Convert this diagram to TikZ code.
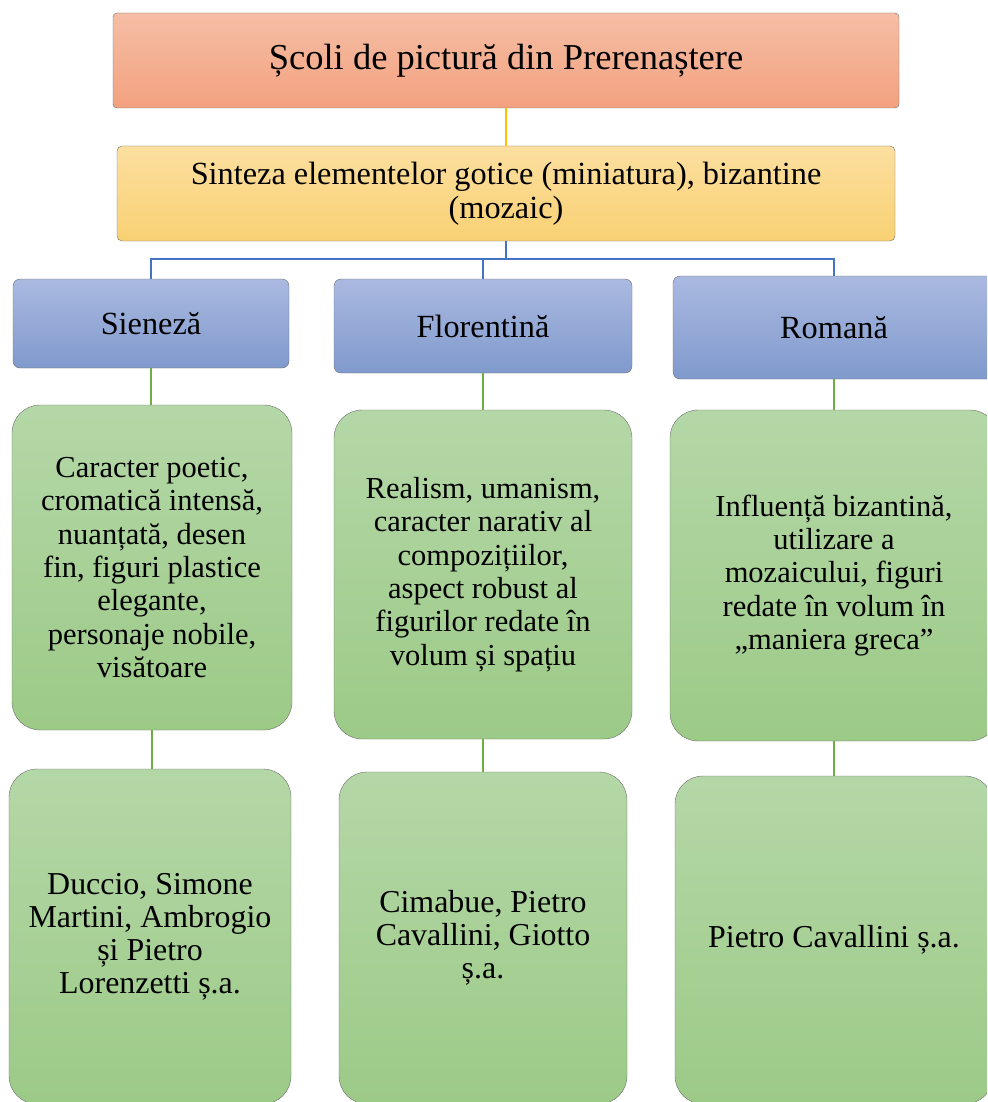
\documentclass[tikz,border=0pt]{standalone}
\usepackage{fontspec}
\setmainfont{Liberation Serif}
\usetikzlibrary{positioning}

\definecolor{titletop}{RGB}{245,190,165}
\definecolor{titlebot}{RGB}{243,161,127}
\definecolor{synthtop}{RGB}{252,223,160}
\definecolor{synthbot}{RGB}{249,209,115}
\definecolor{schooltop}{RGB}{170,185,224}
\definecolor{schoolbot}{RGB}{128,154,205}
\definecolor{notetop}{RGB}{180,215,167}
\definecolor{notebot}{RGB}{156,202,135}
\definecolor{yellowlink}{RGB}{255,192,0}
\definecolor{bluelink}{RGB}{68,114,196}
\definecolor{greenlink}{RGB}{112,173,71}
\definecolor{boxline}{RGB}{110,110,110}

\tikzset{
  titlebox/.style={draw=boxline,thin,rounded corners=4pt,top color=titletop,
    bottom color=titlebot,inner sep=0pt,align=center},
  synthbox/.style={draw=boxline,thin,rounded corners=5pt,top color=synthtop,
    bottom color=synthbot,inner sep=0pt,align=center},
  schoolbox/.style={draw=boxline,thin,rounded corners=7pt,top color=schooltop,
    bottom color=schoolbot,inner sep=0pt,align=center},
  notebox/.style={draw=boxline,thin,rounded corners=28pt,top color=notetop,
    bottom color=notebot,inner sep=0pt,align=center},
  sz/.style n args={2}{minimum width=#1,minimum height=#2},
}

\begin{document}
\begin{tikzpicture}[x=1pt,y=-1pt]

\useasboundingbox (0,0) rectangle (987,1102);
\clip (0,0) rectangle (987,1102);

\begin{scope}[font=\fontsize{36.5}{42}\selectfont] % top of the chart
  \node[titlebox,sz={786pt}{95pt}] (title) at (506,60.5)
    {Școli de pictură din Prerenaștere};
\end{scope}

\begin{scope}[font=\fontsize{32.3}{34}\selectfont]
  \node[synthbox,sz={778pt}{95pt}] (synth) at (506,193.5)
    {Sinteza elementelor gotice (miniatura), bizantine\\(mozaic)};
  % the three schools
  \node[schoolbox,sz={276pt}{89pt}] (sien) at (151,323.5) {Sieneză};
  \node[schoolbox,sz={298pt}{94pt}] (flor) at (483,326) {Florentină};
  \node[schoolbox,sz={322pt}{103pt}] (roma) at (834,327.5) {Romană};
\end{scope}

\begin{scope}[font=\fontsize{30.5}{33.3}\selectfont] % traits
  \node[notebox,sz={280pt}{325pt}] (sienT) at (152,567.5)
    {Caracter poetic,\\cromatică intensă,\\nuanțată, desen\\fin, figuri plastice\\
     elegante,\\personaje nobile,\\visătoare};
  \node[notebox,sz={298pt}{329pt}] (florT) at (483,574.5)
    {Realism, umanism,\\caracter narativ al\\compozițiilor,\\aspect robust al\\
     figurilor redate în\\volum și spațiu};
  \node[notebox,sz={328pt}{331pt}] (romaT) at (834,575.5)
    {Influență bizantină,\\utilizare a\\mozaicului, figuri\\redate în volum în\\
     „maniera greca”};
\end{scope}

\begin{scope}[font=\fontsize{31.9}{33}\selectfont] % painters
  \node[notebox,sz={282pt}{335pt}] (sienP) at (150,936.5)
    {Duccio, Simone\\Martini, Ambrogio\\și Pietro\\Lorenzetti ș.a.};
  \node[notebox,sz={288pt}{332pt}] (florP) at (483,938)
    {Cimabue, Pietro\\Cavallini, Giotto\\ș.a.};
  \node[notebox,sz={318pt}{328pt}] (romaP) at (834,940)
    {Pietro Cavallini ș.a.};
\end{scope}

\begin{scope}[line width=1.3pt] % connectors
  \draw[yellowlink] (title) -- (synth);
  \coordinate (bus) at (506,259);
  \draw[bluelink] (synth.south) -- (bus) -| (sien.north);
  \draw[bluelink] (bus) -| (flor.north);
  \draw[bluelink] (bus) -| (roma.north);
  \foreach \s in {sien,flor,roma} {
    \draw[greenlink] (\s.south) -- (\s.south |- \s T.north);
    \draw[greenlink] (\s T.south) -- (\s T.south |- \s P.north);
  }
\end{scope}

\end{tikzpicture}
\end{document}
